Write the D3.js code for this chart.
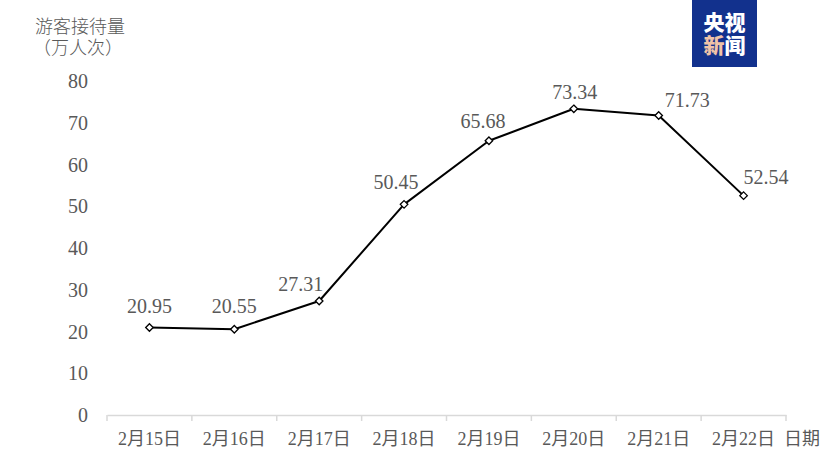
<!DOCTYPE html>
<html><head><meta charset="utf-8">
<script src="https://cdn.jsdelivr.net/npm/d3@7/dist/d3.min.js"></script>
<style>
html,body{margin:0;padding:0;background:#fff;}
svg{display:block;}
</style></head>
<body>
<svg id="c" width="836" height="472"></svg>
<script>
const categories = ["2月15日","2月16日","2月17日","2月18日","2月19日","2月20日","2月21日","2月22日"];
const visitors = [20.95, 20.55, 27.31, 50.45, 65.68, 73.34, 71.73, 52.54];
const yTicks = [0,10,20,30,40,50,60,70,80];
const yTitle = ["游客接待量","（万人次）"];
const xTitle = "日期";

const svg = d3.select("#c");
const serif = "'Liberation Serif','DejaVu Serif','Noto Sans CJK SC',serif";
const cjk = "'Liberation Serif','Noto Sans CJK SC',serif";
const grey = "#595959";

const x = d3.scaleBand().domain(categories).range([107, 786]).padding(0);
const y = d3.scaleLinear().domain([0, 80]).range([415, 81]);

// y tick labels
svg.append("g").selectAll("text").data(yTicks).join("text")
  .attr("x", 88).attr("y", d => y(d)).attr("dy", "0.35em")
  .attr("text-anchor", "end").attr("font-family", serif).attr("font-size", 20)
  .attr("fill", grey).text(d => d);

// y title
svg.append("g").selectAll("text").data(yTitle).join("text")
  .attr("x", (d,i) => i === 0 ? 80 : 78).attr("y", (d,i) => 27 + i*21).attr("dy", "0.35em")
  .attr("text-anchor", "middle").attr("font-family", cjk).attr("font-size", 18)
  .attr("font-weight", 300)
  .attr("fill", grey).text(d => d);

// x axis
const xAxis = d3.axisBottom(x).tickSize(0).tickFormat(d => d);
const gx = svg.append("g").attr("transform", "translate(0,415)").call(xAxis);
gx.select(".domain").attr("stroke", "#d9d9d9").attr("stroke-width", 1.5);
gx.selectAll(".tick text").attr("font-family", cjk).attr("font-size", 18)
  .attr("fill", grey).attr("dy", 0).attr("y", 30);
// boundary tick marks
const bounds = categories.map(c => x(c)).concat([x.range()[1]]);
svg.append("g").selectAll("line").data(bounds).join("line")
  .attr("x1", d => d).attr("x2", d => d).attr("y1", 415).attr("y2", 421)
  .attr("stroke", "#d9d9d9").attr("stroke-width", 1.5);

svg.append("text").attr("x", 784).attr("y", 445).attr("font-family", cjk)
  .attr("font-size", 18).attr("fill", grey).text(xTitle);

// line
const cx = d => x(d) + x.bandwidth()/2;
const line = d3.line().x((d,i) => cx(categories[i])).y(d => y(d));
svg.append("path").datum(visitors).attr("d", line)
  .attr("fill", "none").attr("stroke", "#000").attr("stroke-width", 2)
  .attr("stroke-linejoin", "round");

// markers (diamonds)
const diamond = d3.symbol().type(d3.symbolDiamond2).size(36);
svg.append("g").selectAll("path").data(visitors).join("path")
  .attr("d", diamond)
  .attr("transform", (d,i) => `translate(${cx(categories[i])},${y(d)})`)
  .attr("fill", "#fff").attr("stroke", "#000").attr("stroke-width", 1.3);

// labels
const labelStyle = [
  {a:"middle", dx:0, dy:-15},
  {a:"middle", dx:0, dy:-16},
  {a:"end", dx:4, dy:-10},
  {a:"middle", dx:-8, dy:-15},
  {a:"middle", dx:-6, dy:-13},
  {a:"middle", dx:1, dy:-10},
  {a:"start", dx:6, dy:-9},
  {a:"start", dx:0, dy:-12}
];
svg.append("g").selectAll("text").data(visitors).join("text")
  .attr("x", (d,i) => cx(categories[i]) + labelStyle[i].dx)
  .attr("y", (d,i) => y(d) + labelStyle[i].dy)
  .attr("text-anchor", (d,i) => labelStyle[i].a)
  .attr("font-family", serif).attr("font-size", 20).attr("fill", grey)
  .text(d => d.toFixed(2));

// logo
const logo = svg.append("g");
logo.append("rect").attr("x", 692).attr("y", 0).attr("width", 65).attr("height", 67).attr("fill", "#12318d");
const lf = "'Noto Sans CJK SC','Noto Sans',sans-serif";
const lt = logo.append("text").attr("text-anchor", "start")
  .attr("font-family", lf).attr("font-weight", 900).attr("font-size", 21);
lt.append("tspan").attr("x", 703.5).attr("y", 30).attr("fill", "#fff").text("央视");
lt.append("tspan").attr("x", 703.5).attr("y", 53).attr("fill", "#f0c3a8").text("新");
lt.append("tspan").attr("fill", "#fff").text("闻");
</script>
</body></html>
